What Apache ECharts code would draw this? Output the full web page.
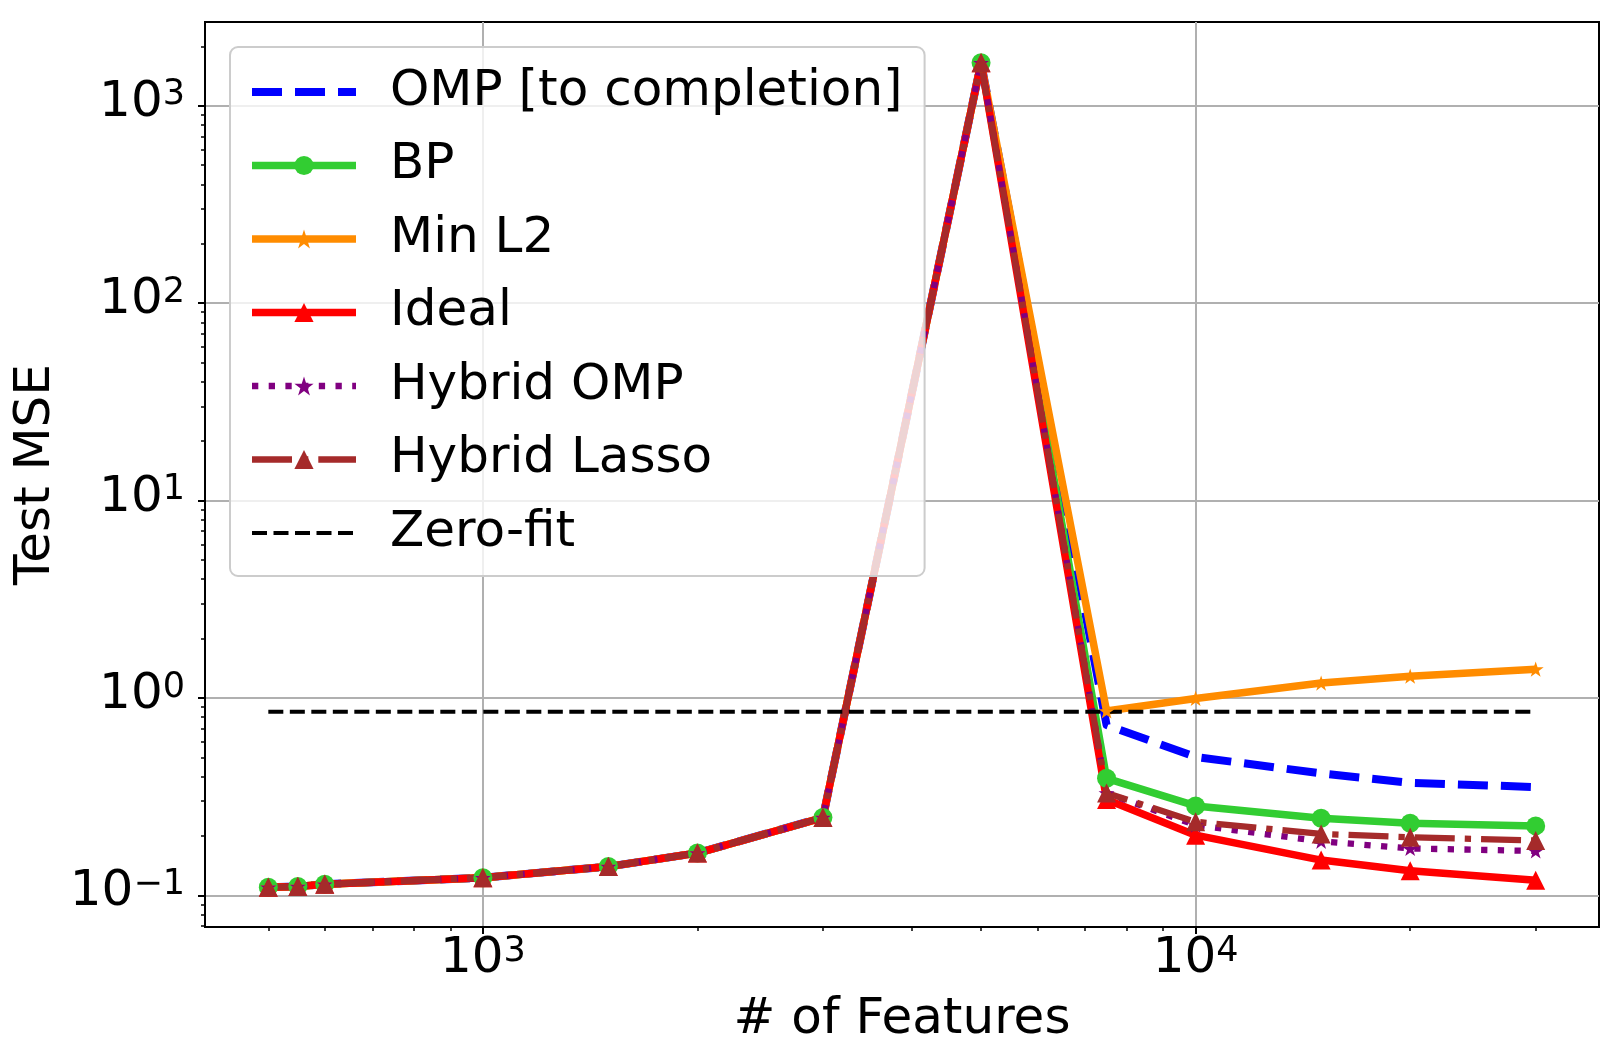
<!DOCTYPE html>
<html><head><meta charset="utf-8">
<script src="https://cdn.jsdelivr.net/npm/echarts@6/dist/echarts.min.js"></script>
<style>html,body{margin:0;padding:0;background:#fff}#chart{width:1623px;height:1064px}</style>
</head><body><div id="chart"></div>
<script>
// ---------------- data ----------------
const features = [500, 550, 600, 1000, 1500, 2000, 3000, 5000, 7500, 10000, 15000, 20000, 30000];
const ompValues         = [0.110, 0.111, 0.114, 0.123, 0.140, 0.164, 0.248, 1650, 0.729, 0.503, 0.415, 0.372, 0.354];
const bpValues          = [0.110, 0.111, 0.114, 0.123, 0.140, 0.164, 0.248, 1650, 0.392, 0.284, 0.246, 0.232, 0.225];
const minL2Values       = [0.110, 0.111, 0.114, 0.123, 0.140, 0.164, 0.248, 1650, 0.860, 0.995, 1.190, 1.290, 1.400];
const idealValues       = [0.110, 0.111, 0.114, 0.123, 0.140, 0.164, 0.248, 1650, 0.306, 0.202, 0.151, 0.1334, 0.1195];
const hybridOmpValues   = [0.110, 0.111, 0.114, 0.123, 0.140, 0.164, 0.248, 1650, 0.330, 0.227, 0.188, 0.173, 0.168];
const hybridLassoValues = [0.110, 0.111, 0.114, 0.123, 0.140, 0.164, 0.248, 1650, 0.330, 0.236, 0.205, 0.197, 0.190];
const zeroFitX = [500, 30000];
const zeroFitY = [0.851, 0.851];

const seriesNames = ['OMP [to completion]', 'BP', 'Min L2', 'Ideal', 'Hybrid OMP', 'Hybrid Lasso', 'Zero-fit'];

const xTickValues = [1000, 10000];
const xTickExps = ['3', '4'];
const yTickValues = [0.1, 1, 10, 100, 1000];
const yTickExps = ['\u22121', '0', '1', '2', '3'];
const xMinorTicks = [500, 600, 700, 800, 900, 2000, 3000, 4000, 5000, 6000, 7000, 8000, 9000, 20000, 30000];
const yMinorTicks = [0.07, 0.08, 0.09, 0.2, 0.3, 0.4, 0.5, 0.6, 0.7, 0.8, 0.9, 2, 3, 4, 5, 6, 7, 8, 9,
                     20, 30, 40, 50, 60, 70, 80, 90, 200, 300, 400, 500, 600, 700, 800, 900, 2000];

const X_MIN = 407.5, X_MAX = 36810;
const Y_MIN = 0.0692, Y_MAX = 2655;

// ---------------- styling ----------------
const FONT = 'DejaVu Sans';
const STAR = 'path://M0,-1L0.2245,-0.309L0.9511,-0.309L0.3633,0.118L0.5878,0.809L0,0.382L-0.5878,0.809L-0.3633,0.118L-0.9511,-0.309L-0.2245,-0.309Z';

function pairs(xs, ys) { return xs.map((x, i) => [x, ys[i]]); }
function powLabel(values, exps) {
  return function (v) {
    for (let i = 0; i < values.length; i++) {
      if (Math.abs(v / values[i] - 1) < 1e-6) return '{b|10}{s|' + exps[i] + '}';
    }
    return '';
  };
}
const rich = {
  b: { fontFamily: FONT, fontSize: 50, lineHeight: 50, padding: [6, 0, 0, 0], verticalAlign: 'bottom', color: '#000' },
  s: { fontFamily: FONT, fontSize: 35, lineHeight: 35, verticalAlign: 'top', color: '#000' }
};
const tickLine = { color: '#000', width: 2 };
const nameStyle = { fontFamily: FONT, fontSize: 50, color: '#000' };

function lineSeries(name, ys, color, width, dash, symbol, symbolSize) {
  return {
    name: name, type: 'line', data: pairs(features, ys),
    symbol: symbol, symbolSize: symbolSize, symbolKeepAspect: true, showSymbol: symbol !== 'none',
    lineStyle: { color: color, width: width, type: dash, cap: 'butt', join: 'round' },
    itemStyle: { color: color, borderWidth: 0 },
    silent: true, animation: false, emphasis: { disabled: true }
  };
}

const series = [
  lineSeries(seriesNames[0], ompValues, '#0000ff', 8, [30, 13], 'none', 0),
  lineSeries(seriesNames[1], bpValues, '#32cd32', 7.5, 'solid', 'circle', 19),
  lineSeries(seriesNames[2], minL2Values, '#ff8c00', 7.5, 'solid', STAR, 16),
  lineSeries(seriesNames[3], idealValues, '#ff0000', 7.5, 'solid', 'triangle', 19),
  lineSeries(seriesNames[4], hybridOmpValues, '#800080', 6.3, [6.3, 10.4], STAR, 16),
  lineSeries(seriesNames[5], hybridLassoValues, '#a52a2a', 6.3, [40, 10, 6.3, 10], 'triangle', 19),
  {
    name: seriesNames[6], type: 'line', data: pairs(zeroFitX, zeroFitY),
    symbol: 'none', showSymbol: false,
    lineStyle: { color: '#000000', width: 4, type: [15, 6.5], cap: 'butt' },
    itemStyle: { color: '#000000' }, silent: true, animation: false, emphasis: { disabled: true }
  }
];

const option = {
  animation: false,
  backgroundColor: '#ffffff',
  grid: {
    left: 205, right: 24, top: 22, bottom: 137,
    show: true, borderColor: '#000', borderWidth: 2, backgroundColor: 'transparent',
    containLabel: false, outerBoundsMode: 'none'
  },
  legend: {
    orient: 'vertical', left: 230, top: 47,
    padding: [20, 22, 18, 18],
    itemWidth: 104, itemHeight: 24, itemGap: 23.5,
    backgroundColor: 'rgba(255,255,255,0.8)', borderColor: '#cccccc', borderWidth: 2, borderRadius: 8,
    selectedMode: false,
    lineStyle: { width: 'inherit' },
    textStyle: { fontFamily: FONT, fontSize: 50, lineHeight: 50, color: '#000', padding: [0, 0, 0, 29] },
    data: seriesNames.map((n, i) => (i === 0 || i === 6) ? { name: n, itemStyle: { opacity: 0 } } : { name: n })
  },
  xAxis: [
    {
      type: 'log', logBase: 10, min: X_MIN, max: X_MAX, position: 'bottom',
      axisLine: { show: true, onZero: false, lineStyle: { color: '#000', width: 2 } },
      axisTick: { show: true, inside: false, length: 7, lineStyle: tickLine, customValues: xTickValues },
      axisLabel: { show: true, customValues: xTickValues, formatter: powLabel(xTickValues, xTickExps), rich: rich, margin: 7, padding: [0, 0, 6, 0] },
      splitLine: { show: true, lineStyle: { color: '#b0b0b0', width: 2 } },
      minorTick: { show: false }, minorSplitLine: { show: false },
      name: '# of Features', nameLocation: 'middle', nameGap: 68, nameMoveOverlap: false, nameTextStyle: nameStyle
    },
    {
      type: 'log', logBase: 10, min: X_MIN, max: X_MAX, position: 'bottom',
      axisLine: { show: false, onZero: false },
      axisTick: { show: true, inside: false, length: 4, lineStyle: { color: '#000', width: 1.5 }, customValues: xMinorTicks },
      axisLabel: { show: false }, splitLine: { show: false }
    }
  ],
  yAxis: [
    {
      type: 'log', logBase: 10, min: Y_MIN, max: Y_MAX, position: 'left',
      axisLine: { show: true, onZero: false, lineStyle: { color: '#000', width: 2 } },
      axisTick: { show: true, inside: false, length: 7, lineStyle: tickLine, customValues: yTickValues },
      axisLabel: { show: true, customValues: yTickValues, formatter: powLabel(yTickValues, yTickExps), rich: rich, margin: 20, padding: [0, 0, 6, 0] },
      splitLine: { show: true, lineStyle: { color: '#b0b0b0', width: 2 } },
      minorTick: { show: false }, minorSplitLine: { show: false },
      name: 'Test MSE', nameLocation: 'middle', nameGap: 144, nameMoveOverlap: false, nameTextStyle: nameStyle
    },
    {
      type: 'log', logBase: 10, min: Y_MIN, max: Y_MAX, position: 'left',
      axisLine: { show: false, onZero: false },
      axisTick: { show: true, inside: false, length: 4, lineStyle: { color: '#000', width: 1.5 }, customValues: yMinorTicks },
      axisLabel: { show: false }, splitLine: { show: false }
    }
  ],
  series: series
};

const chart = echarts.init(document.getElementById('chart'), null, { renderer: 'canvas' });
chart.setOption(option);
</script>
</body></html>
